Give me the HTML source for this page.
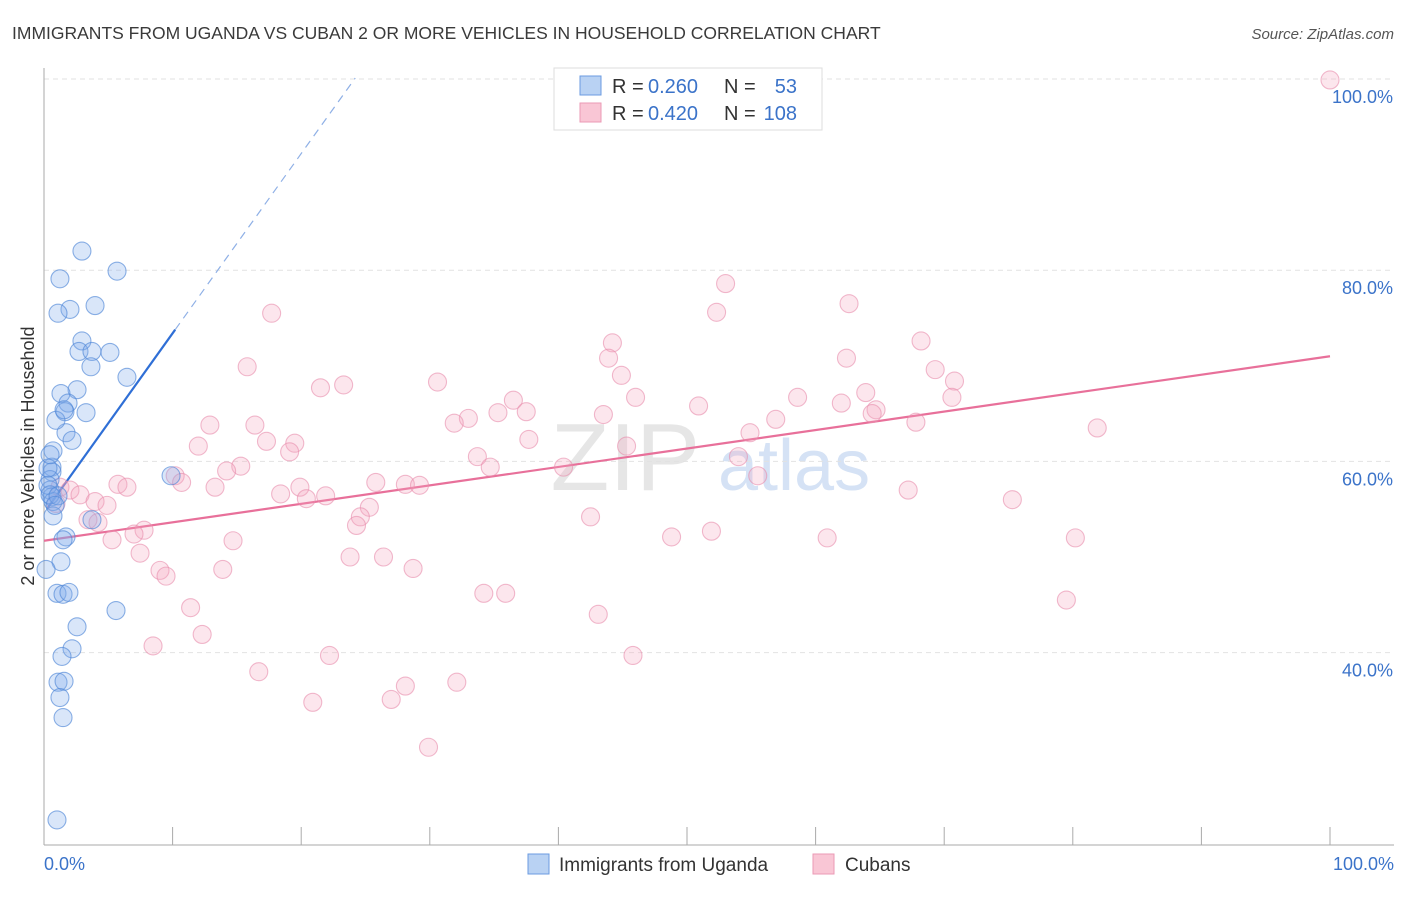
<!DOCTYPE html>
<html><head><meta charset="utf-8"><style>
body{margin:0;background:#fff;font-family:"Liberation Sans",sans-serif;}
svg text{font-family:"Liberation Sans",sans-serif;}
</style></head><body>
<svg id="chart" width="1406" height="892" xmlns="http://www.w3.org/2000/svg">
<text x="12" y="39" font-size="17.5" fill="#3a3a3a">IMMIGRANTS FROM UGANDA VS CUBAN 2 OR MORE VEHICLES IN HOUSEHOLD CORRELATION CHART</text>
<text x="1394" y="39" font-size="15" fill="#555" font-style="italic" text-anchor="end">Source: ZipAtlas.com</text>
<text x="700" y="490" font-size="96" fill="#e6e6e6" text-anchor="end" font-family="Liberation Serif">ZIP</text>
<text x="718" y="490" font-size="72" fill="#d5e2f5">atlas</text>
<g id="grid"></g><g id="axes"></g><g id="lines"></g><g id="pts"></g>
<text transform="translate(34,456) rotate(-90)" font-size="18" fill="#333" text-anchor="middle">2 or more Vehicles in Household</text>
<text x="44" y="870" font-size="18" fill="#3b73c9">0.0%</text>
<text x="1394" y="870" font-size="18" fill="#3b73c9" text-anchor="end">100.0%</text>
<g>
<rect x="554" y="68" width="268" height="62" fill="#fff" stroke="#ddd"/>
<rect x="580" y="76" width="21" height="19" fill="#b9d2f3" stroke="#6b9be0"/>
<rect x="580" y="103" width="21" height="19" fill="#f9c6d5" stroke="#eb9ab5"/>
<text x="612" y="93" font-size="20" fill="#333">R =</text>
<text x="648" y="93" font-size="20" fill="#3b73c9">0.260</text>
<text x="724" y="93" font-size="20" fill="#333">N =</text>
<text x="797" y="93" font-size="20" fill="#3b73c9" text-anchor="end">53</text>
<text x="612" y="120" font-size="20" fill="#333">R =</text>
<text x="648" y="120" font-size="20" fill="#3b73c9">0.420</text>
<text x="724" y="120" font-size="20" fill="#333">N =</text>
<text x="797" y="120" font-size="20" fill="#3b73c9" text-anchor="end">108</text>
</g>
<g><rect x="528" y="854" width="21" height="20" fill="#b9d2f3" stroke="#6b9be0"/><text x="559" y="871" font-size="19" fill="#333">Immigrants from Uganda</text></g>
<g><rect x="813" y="854" width="21" height="20" fill="#f9c6d5" stroke="#eb9ab5"/><text x="845" y="871" font-size="19" fill="#333">Cubans</text></g>
</svg>
<script>
const blueX=[2.95,5.68,1.24,3.97,2.02,1.09,2.95,2.72,3.73,5.13,3.65,6.45,2.57,1.32,1.87,1.63,3.27,1.71,0.93,0.70,0.62,0.62,0.47,0.47,0.62,0.70,0.70,1.71,1.48,1.32,0.16,5.60,9.88,3.73,2.57,2.18,1.40,1.01,1.48,1.94,1.09,1.56,1.24,1.48,1.01,0.31,0.47,0.31,1.09,0.86,0.47,2.18,1.56];
const blueY=[82.0,79.9,79.1,76.3,75.9,75.5,72.6,71.5,71.5,71.4,69.9,68.8,67.5,67.1,66.1,65.2,65.1,63.0,64.3,61.1,59.4,58.9,58.1,57.0,56.3,55.8,54.3,52.1,51.8,49.5,48.7,44.4,58.5,53.9,42.7,40.4,39.6,46.2,46.1,46.3,36.9,37.0,35.3,33.2,22.5,57.5,56.5,59.3,56.4,55.4,60.7,62.2,65.4];
const pinkX=[100,53.0,62.6,52.3,17.7,44.2,68.2,43.9,62.4,15.8,44.9,30.6,69.3,70.8,21.5,23.3,36.5,46.0,58.6,63.9,70.6,62.0,50.9,33.0,35.3,37.5,64.7,64.4,43.5,31.9,12.9,16.4,56.9,67.8,54.9,37.7,17.3,19.5,12.0,19.1,45.3,81.9,54.0,33.7,15.3,34.7,14.2,40.4,55.5,10.2,10.7,5.75,6.45,13.3,25.8,19.9,28.1,29.2,21.9,18.4,20.4,1.24,2.02,2.80,3.97,4.90,0.93,25.3,24.6,24.3,42.5,75.3,67.2,3.42,4.20,7.78,7.00,5.29,14.7,48.8,51.9,60.9,80.2,7.47,23.8,26.4,9.02,9.49,13.9,28.7,34.2,35.9,11.4,43.1,79.5,12.3,8.48,22.2,45.8,16.7,32.1,28.1,27.0,20.9,29.9];
const pinkY=[99.9,78.6,76.5,75.6,75.5,72.4,72.6,70.8,70.8,69.9,69.0,68.3,69.6,68.4,67.7,68.0,66.4,66.7,66.7,67.2,66.7,66.1,65.8,64.5,65.1,65.2,65.4,65.0,64.9,64.0,63.8,63.8,64.4,64.1,63.0,62.3,62.1,61.9,61.6,61.0,61.6,63.5,60.5,60.5,59.5,59.4,59.0,59.4,58.5,58.5,57.8,57.6,57.3,57.3,57.8,57.3,57.6,57.5,56.4,56.6,56.1,57.3,57.0,56.5,55.8,55.4,55.6,55.2,54.2,53.3,54.2,56.0,57.0,53.9,53.6,52.8,52.4,51.8,51.7,52.1,52.7,52.0,52.0,50.4,50.0,50.0,48.6,48.0,48.7,48.8,46.2,46.2,44.7,44.0,45.5,41.9,40.7,39.7,39.7,38.0,36.9,36.5,35.1,34.8,30.1];
const blueTrend=[54.6,1.88]; // intercept, slope
const pinkTrend=[51.7,0.193];
const yTicks=[40,60,80,100];
const xTicks=[0,10,20,30,40,50,60,70,80,90,100];
const NS="http://www.w3.org/2000/svg";
const sx=v=>44+v*12.86, sy=v=>79+(100-v)*9.56;
function mk(t,a,p){const e=document.createElementNS(NS,t);for(const k in a)e.setAttribute(k,a[k]);document.getElementById(p).appendChild(e);return e;}
yTicks.forEach(t=>{
 const g=mk('line',{x1:44,x2:1394,y1:sy(t),y2:sy(t),stroke:'#e2e2e2','stroke-dasharray':'5,4'},'grid');
 
 
 const l=mk('text',{x:1393,y:sy(t)+24,'font-size':18,fill:'#3b73c9','text-anchor':'end'},'grid');
 l.textContent=t.toFixed(1)+'%';
 
 
});
const ya=mk('line',{x1:44,x2:44,y1:68,y2:845,stroke:'#aaa'},'axes');


const xa=mk('line',{x1:44,x2:1394,y1:845,y2:845,stroke:'#aaa'},'axes');


xTicks.forEach(t=>{
 const k=mk('line',{x1:sx(t),x2:sx(t),y1:827,y2:845,stroke:'#aaa'},'axes');
 
 
});
const b0=0.23,b1=10.2,b2=24.2;
const bl=mk('line',{x1:sx(b0),y1:sy(blueTrend[0]+blueTrend[1]*b0),x2:sx(b1),y2:sy(blueTrend[0]+blueTrend[1]*b1),stroke:'#2f6fd6','stroke-width':2.2},'lines');


const bd=mk('line',{x1:sx(b1),y1:sy(blueTrend[0]+blueTrend[1]*b1),x2:sx(b2),y2:sy(blueTrend[0]+blueTrend[1]*b2),stroke:'#8fb0e6','stroke-width':1.2,'stroke-dasharray':'8,6'},'lines');


const pl=mk('line',{x1:sx(0),y1:sy(pinkTrend[0]),x2:sx(100),y2:sy(pinkTrend[0]+pinkTrend[1]*100),stroke:'#e8709a','stroke-width':2.2},'lines');


pinkX.forEach((x,i)=>{
 const c=mk('circle',{cx:sx(x),cy:sy(pinkY[i]),r:9,fill:'rgba(244,165,192,0.28)',stroke:'rgba(232,140,172,0.6)','stroke-width':1.1},'pts');
 
 
});
blueX.forEach((x,i)=>{
 const c=mk('circle',{cx:sx(x),cy:sy(blueY[i]),r:9,fill:'rgba(130,172,235,0.3)',stroke:'rgba(80,135,215,0.65)','stroke-width':1.1},'pts');
 
 
});
</script>
</body></html>
